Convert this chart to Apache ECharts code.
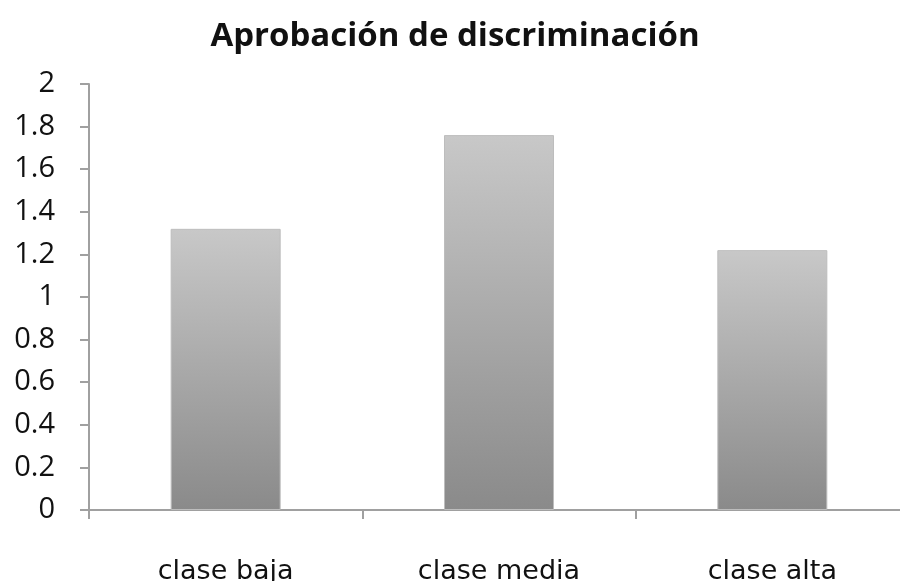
<!DOCTYPE html>
<html>
<head>
<meta charset="utf-8">
<script src="https://cdn.jsdelivr.net/npm/echarts@6/dist/echarts.min.js"></script>
<style>
  html, body { margin: 0; padding: 0; background: #fff; }
  #chart { width: 900px; height: 581px; }
</style>
</head>
<body>
<div id="chart"></div>
<script>
var titleText = 'Aprobación de discriminación';
var categories = ['clase baja', 'clase media', 'clase alta'];
var values = [1.32, 1.76, 1.22];

var myChart = echarts.init(document.getElementById('chart'));
var option = {
    backgroundColor: '#fff',
    animation: false,
    title: {
        text: titleText,
        left: 450,
        textAlign: 'center',
        top: 15,
        textStyle: {
            fontFamily: 'Open Sans',
            fontSize: 33,
            fontWeight: 'bold',
            color: '#111'
        }
    },
    grid: {
        left: 89,
        right: -9,
        top: 84,
        bottom: 71,
        outerBoundsMode: 'none',
        containLabel: false
    },
    xAxis: {
        type: 'category',
        data: categories,
        axisLine: { lineStyle: { color: '#a0a0a0', width: 2 } },
        axisTick: { show: true, length: 9, lineStyle: { color: '#a0a0a0', width: 2 } },
        axisLabel: {
            margin: 48,
            fontFamily: 'DejaVu Sans',
            fontSize: 27,
            color: '#111'
        }
    },
    yAxis: {
        type: 'value',
        min: 0,
        max: 2,
        interval: 0.2,
        axisLine: { show: true, lineStyle: { color: '#a0a0a0', width: 2 } },
        axisTick: { show: true, length: 9, lineStyle: { color: '#a0a0a0', width: 2 } },
        splitLine: { show: false },
        axisLabel: {
            margin: 34,
            fontFamily: 'Open Sans',
            fontSize: 29,
            color: '#111'
        }
    },
    series: [
        {
            type: 'bar',
            data: values,
            barWidth: 110,
            itemStyle: {
                color: new echarts.graphic.LinearGradient(0, 0, 0, 1, [
                    { offset: 0, color: '#c8c8c8' },
                    { offset: 1, color: '#8a8a8a' }
                ]),
                borderColor: '#bdbdbd',
                borderWidth: 1
            }
        }
    ]
};
myChart.setOption(option);
</script>
</body>
</html>
